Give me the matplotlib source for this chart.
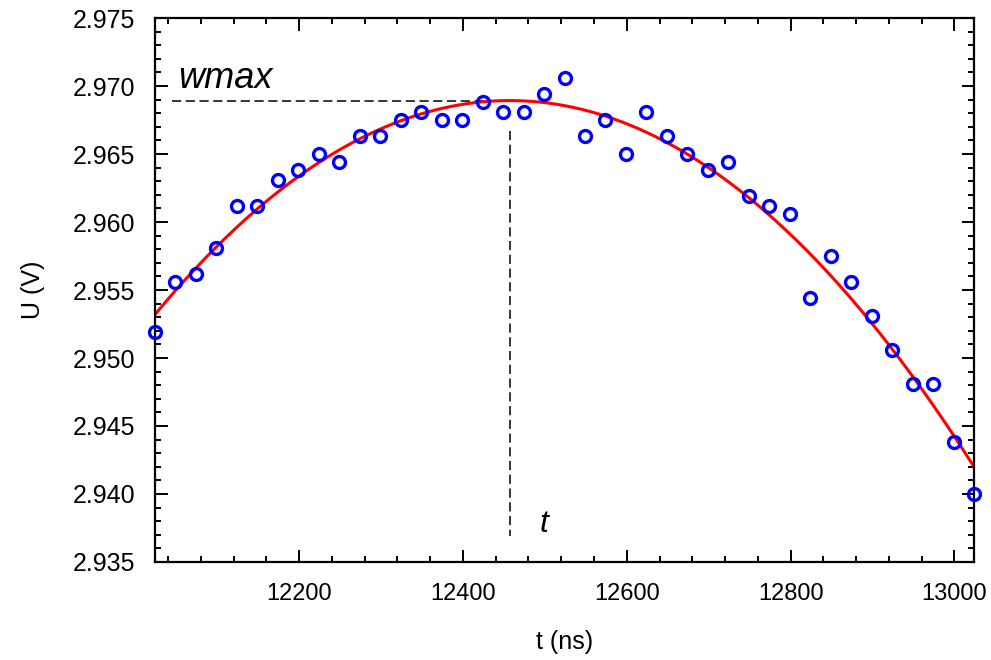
import numpy as np
import matplotlib.pyplot as plt
from matplotlib.ticker import MultipleLocator

plt.rcParams['font.family'] = ['Liberation Sans', 'DejaVu Sans']

# sampled signal near the pulse maximum
t_ns = [12024, 12049, 12074, 12099, 12124, 12149, 12174, 12199, 12224, 12249,
        12274, 12299, 12324, 12349, 12374, 12399, 12424, 12449, 12474, 12499,
        12524, 12549, 12574, 12599, 12624, 12649, 12674, 12699, 12724, 12749,
        12774, 12799, 12824, 12849, 12874, 12899, 12924, 12949, 12974, 12999,
        13024]
u_volts = [2.9519, 2.9556, 2.9562, 2.9581, 2.9612, 2.9612, 2.9631, 2.9638, 2.9650, 2.9644,
           2.9663, 2.9663, 2.9675, 2.9681, 2.9675, 2.9675, 2.9688, 2.9681, 2.9681, 2.9694,
           2.9706, 2.9663, 2.9675, 2.9650, 2.9681, 2.9663, 2.9650, 2.9638, 2.9644, 2.9619,
           2.9612, 2.9606, 2.9544, 2.9575, 2.9556, 2.9531, 2.9506, 2.9481, 2.9481, 2.9438,
           2.9400]

t_arr = np.array(t_ns, dtype=float)
u_arr = np.array(u_volts)

# parabola fit, vertex gives t and wmax
t_ref = 12500.0
c2, c1, c0 = np.polyfit(t_arr - t_ref, u_arr, 2)
t_peak = t_ref - c1 / (2 * c2)
w_max = c0 - c1**2 / (4 * c2)

t_fit = np.linspace(t_arr[0], t_arr[-1], 400)
u_fit = np.polyval([c2, c1, c0], t_fit - t_ref)

fig = plt.figure(figsize=(9.91, 6.60), dpi=100)
ax = fig.add_axes([0.1564, 0.1485, 0.8265, 0.8242])

ax.plot(t_fit, u_fit, color='red', lw=2.2, zorder=2)
ax.plot(t_arr, u_arr, 'o', mfc='none', mec='blue', ms=8.6, mew=2.4,
        clip_on=False, zorder=3)

# markers for the maximum
ax.plot([12045, t_peak + 20], [w_max, w_max], color='black', lw=1.1,
        ls=(0, (6, 3)), zorder=1)
ax.plot([t_peak, t_peak], [2.9667, 2.9369], color='black', lw=1.1,
        ls=(0, (6, 3)), zorder=1)
ax.text(12052, w_max + 0.0003, 'wmax', fontsize=26, style='italic',
        ha='left', va='bottom')
ax.text(t_peak + 36, 2.9367, 't', fontsize=23, style='italic',
        ha='left', va='bottom')

ax.set_xlim(t_arr[0], t_arr[-1])
ax.set_ylim(2.935, 2.975)
ax.xaxis.set_major_locator(MultipleLocator(200))
ax.xaxis.set_minor_locator(MultipleLocator(40))
ax.yaxis.set_major_locator(MultipleLocator(0.005))
ax.yaxis.set_minor_locator(MultipleLocator(0.001))
ax.yaxis.set_major_formatter(plt.FormatStrFormatter('%.3f'))

ax.tick_params(which='both', direction='in', top=True, right=True,
               width=1.4, colors='black')
ax.tick_params(which='major', length=9)
ax.tick_params(which='minor', length=4.5)
ax.tick_params(axis='y', labelsize=18, pad=14)
ax.tick_params(axis='x', labelsize=17, pad=15)
for s in ax.spines.values():
    s.set_linewidth(1.6)

ax.set_xlabel('t (ns)', fontsize=18, labelpad=18)
ax.set_ylabel('U (V)', fontsize=18, labelpad=20)

fig.savefig('out.png', dpi=100)
